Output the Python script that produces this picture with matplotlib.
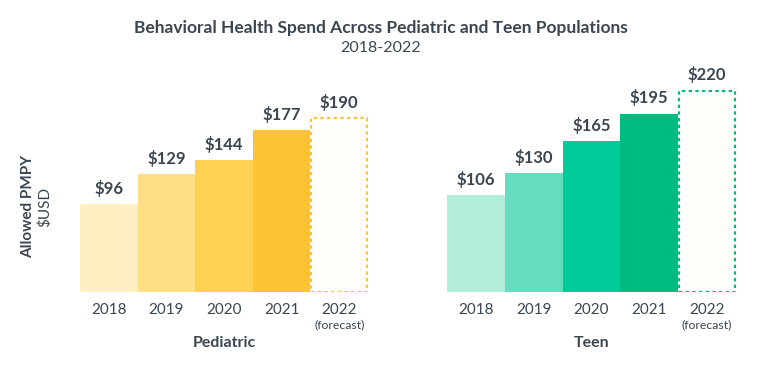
import matplotlib
matplotlib.use("Agg")
import matplotlib.pyplot as plt

plt.rcParams['font.family'] = ['Lato', 'DejaVu Sans']

years = ["2018", "2019", "2020", "2021", "2022"]
pediatric = [96, 129, 144, 177, 190]
teen = [106, 130, 165, 195, 220]
ped_colors = ["#FEEFC2", "#FEDF85", "#FED250", "#FEC334"]
teen_colors = ["#B2EDDC", "#66DDBF", "#00CC9A", "#00BB7F"]
ped_dash = "#FEC334"
teen_dash = "#00BB7F"
txt = "#3A4651"

fig = plt.figure(figsize=(7.62, 3.65), dpi=100)
W, H = 762, 365

def make_axes(x0, x1):
    bottom = (H - 292) / H
    height = 240 * 0.915 / H
    return fig.add_axes([x0 / W, bottom, (x1 - x0) / W, height])

def draw(ax, vals, colors, dash, group):
    for i, v in enumerate(vals[:4]):
        ax.bar(i, v, width=1.0, color=colors[i], linewidth=0)
    ax.bar(4, vals[4], width=0.97, facecolor="#FFFEFB", edgecolor=dash,
           linewidth=1.6, linestyle=(0, (1.5, 1.5)))
    for i, v in enumerate(vals):
        ax.text(i, v + 8, f"${v}", ha="center", va="bottom", fontsize=12,
                fontweight="bold", color=txt)
    ax.set_xlim(-0.5, 4.5)
    ax.set_ylim(0, 240)
    for s in ax.spines.values():
        s.set_visible(False)
    ax.set_yticks([])
    ax.set_xticks(range(5))
    ax.set_xticklabels(years, fontsize=11, color=txt)
    ax.tick_params(axis="x", length=0, pad=8)
    ax.text(4, -30, "(forecast)", ha="center", va="top", fontsize=8.8, color=txt)
    ax.text(2, -48, group, ha="center", va="top", fontsize=11.5,
            fontweight="bold", color=txt)

ax1 = make_axes(80, 368)
ax2 = make_axes(447, 736)
draw(ax1, pediatric, ped_colors, ped_dash, "Pediatric")
draw(ax2, teen, teen_colors, teen_dash, "Teen")

fig.text(0.5, 1 - 28 / H, "Behavioral Health Spend Across Pediatric and Teen Populations",
         ha="center", va="center", fontsize=12.5, fontweight="bold", color=txt)
fig.text(0.5, 1 - 48 / H, "2018-2022", ha="center", va="center", fontsize=11.5, color=txt)
fig.text(28 / W, 1 - 207 / H, "Allowed PMPY", rotation=90, ha="center", va="center",
         fontsize=11, fontweight="bold", color=txt)
fig.text(44 / W, 1 - 207 / H, "$USD", rotation=90, ha="center", va="center",
         fontsize=11, color=txt)

fig.savefig("out.png", dpi=100, facecolor="white")
